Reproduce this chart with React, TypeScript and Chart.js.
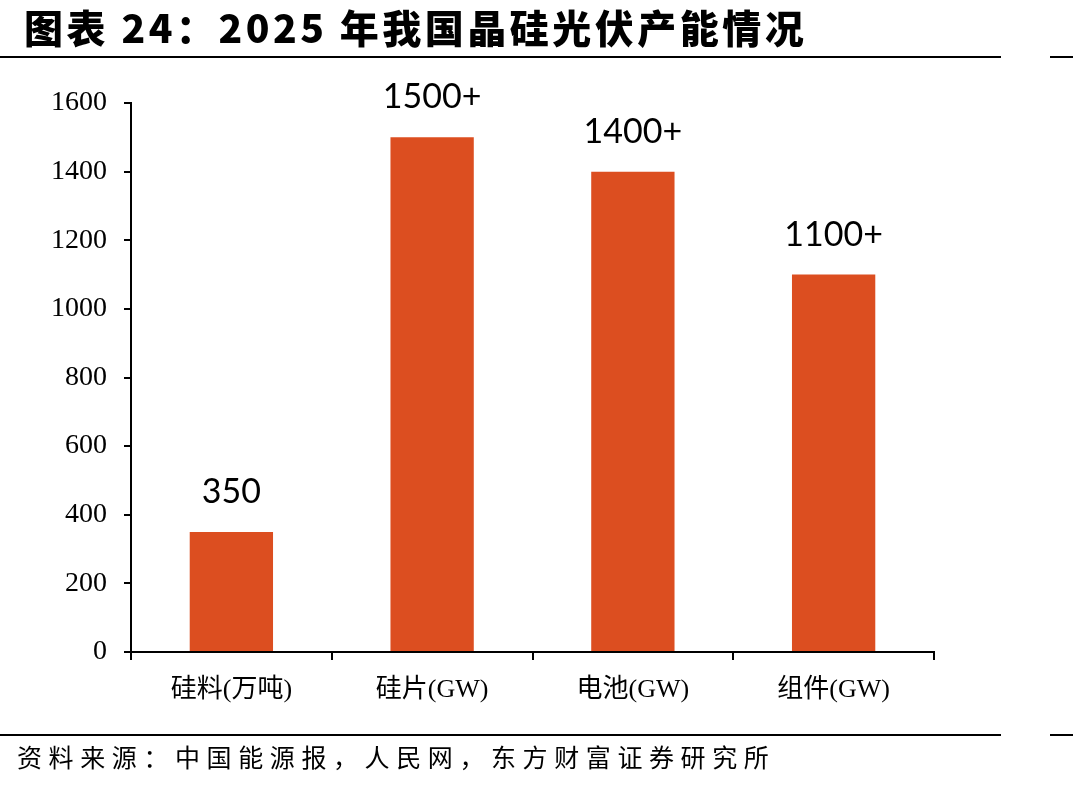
import React, { useEffect, useRef } from "react";
import { Chart, registerables } from "chart.js";

Chart.register(...registerables);

const categories = ["硅料(万吨)", "硅片(GW)", "电池(GW)", "组件(GW)"];
const values = [350, 1500, 1400, 1100];
const valueLabels = ["350", "1500+", "1400+", "1100+"];
const yTicks = [0, 200, 400, 600, 800, 1000, 1200, 1400, 1600];

const TITLE = "图表 24：2025 年我国晶硅光伏产能情况";
const SOURCE = "资料来源：中国能源报，人民网，东方财富证券研究所";

const labelPlugin = {
  id: "valueLabels",
  afterDatasetsDraw(chart: any) {
    const ctx = chart.ctx;
    const meta = chart.getDatasetMeta(0);
    ctx.save();
    ctx.font = "34px Lato, 'Open Sans', sans-serif";
    ctx.fillStyle = "#000";
    ctx.textAlign = "center";
    ctx.textBaseline = "middle";
    meta.data.forEach((bar: any, i: number) => {
      ctx.fillText(valueLabels[i], bar.x, bar.y - 40);
    });
    ctx.restore();
  },
};

export default function App() {
  const ref = useRef<HTMLCanvasElement>(null);
  useEffect(() => {
    if (!ref.current) return;
    const chart = new Chart(ref.current, {
      type: "bar",
      data: {
        labels: categories,
        datasets: [
          {
            data: values,
            backgroundColor: "#DC4E20",
            borderWidth: 0,
            categoryPercentage: 1,
            barPercentage: 0.415,
          },
        ],
      },
      options: {
        animation: false,
        responsive: false,
        maintainAspectRatio: false,
        layout: { padding: { left: 0, top: 103, right: 139, bottom: 0 } },
        plugins: { legend: { display: false }, tooltip: { enabled: false } },
        scales: {
          x: {
            offset: true,
            grid: {
              offset: true,
              drawOnChartArea: false,
              drawTicks: true,
              tickLength: 8,
              color: "#000",
              lineWidth: 2,
            },
            border: { color: "#000", width: 2 },
            ticks: {
              color: "#000",
              padding: 15,
              font: { family: "'Liberation Serif', 'Noto Sans CJK SC', serif", size: 26 },
            },
            afterFit(scale: any) {
              scale.height = 788 - 652;
            },
          },
          y: {
            min: 0,
            max: 1600,
            afterBuildTicks(scale: any) {
              scale.ticks = yTicks.map((v) => ({ value: v }));
            },
            grid: {
              drawOnChartArea: false,
              drawTicks: true,
              tickLength: 7,
              color: "#000",
              lineWidth: 2,
            },
            border: { color: "#000", width: 2 },
            ticks: {
              color: "#000",
              padding: 17,
              font: { family: "'Liberation Serif', serif", size: 28 },
              callback: (v: any) => String(v),
            },
            afterFit(scale: any) {
              scale.width = 131;
            },
          },
        },
      },
      plugins: [labelPlugin],
    });
    return () => chart.destroy();
  }, []);

  return (
    <div
      style={{
        position: "absolute",
        left: 0,
        top: 0,
        width: 1073,
        height: 788,
        background: "#fff",
        overflow: "hidden",
      }}
    >
      <canvas
        ref={ref}
        width={1073}
        height={788}
        style={{ position: "absolute", left: 0, top: 0, width: 1073, height: 788 }}
      />
      <div
        style={{
          position: "absolute",
          left: 24,
          top: 1,
          fontFamily: "'Noto Sans CJK SC', sans-serif",
          fontWeight: 900,
          fontSize: 39,
          letterSpacing: 3.5,
          lineHeight: "50px",
          color: "#000",
          whiteSpace: "nowrap",
        }}
      >
        {TITLE}
      </div>
      <div style={{ position: "absolute", left: 0, top: 56, width: 1001, height: 2, background: "#000" }} />
      <div style={{ position: "absolute", left: 1050, top: 56, width: 23, height: 2, background: "#000" }} />
      <div style={{ position: "absolute", left: 0, top: 734, width: 1001, height: 2, background: "#000" }} />
      <div style={{ position: "absolute", left: 1050, top: 734, width: 23, height: 2, background: "#000" }} />
      <div
        style={{
          position: "absolute",
          left: 17,
          top: 739,
          fontFamily: "'Noto Sans CJK SC', serif",
          fontSize: 25,
          letterSpacing: 6.6,
          lineHeight: "34px",
          color: "#000",
          whiteSpace: "nowrap",
        }}
      >
        {SOURCE}
      </div>
    </div>
  );
}
